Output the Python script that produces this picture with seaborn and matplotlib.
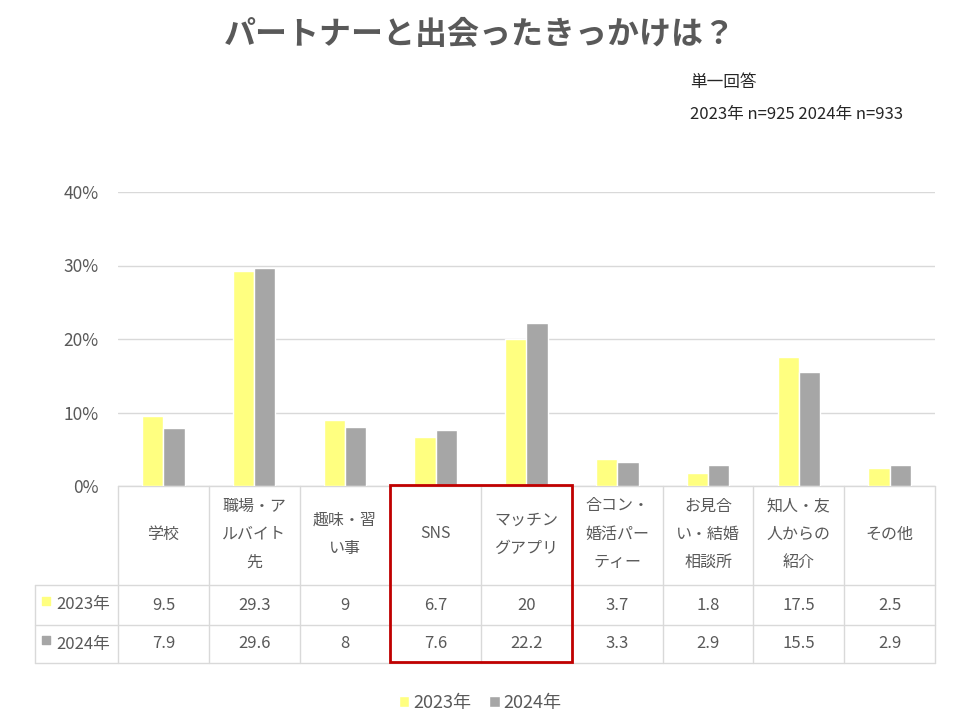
import pandas as pd
import matplotlib.pyplot as plt
import seaborn as sns
from matplotlib.patches import Rectangle
from matplotlib.transforms import blended_transform_factory

# データ
categories = ["学校", "職場・ア\nルバイト\n先", "趣味・習\nい事", "SNS", "マッチン\nグアプリ",
              "合コン・\n婚活パー\nティー", "お見合\nい・結婚\n相談所", "知人・友\n人からの\n紹介", "その他"]
values_2023 = [9.5, 29.3, 9, 6.7, 20, 3.7, 1.8, 17.5, 2.5]
values_2024 = [7.9, 29.6, 8, 7.6, 22.2, 3.3, 2.9, 15.5, 2.9]
years = ["2023年", "2024年"]
colors = ["#FFFF80", "#A6A6A6"]

TEXT = "#595959"
GRID = "#D9D9D9"
W, H = 960, 720


def fy(py):
    # ピクセル位置(上から) -> figure座標
    return 1 - py / H


def main():
    sns.set_theme(style="white")
    plt.rcParams["font.family"] = ["Noto Sans CJK JP", "DejaVu Sans"]

    df = pd.DataFrame({
        "cat": list(range(len(categories))) * 2,
        "value": values_2023 + values_2024,
        "year": [years[0]] * len(categories) + [years[1]] * len(categories),
    })

    fig = plt.figure(figsize=(W / 100, H / 100), dpi=100)
    fig.patch.set_facecolor("white")
    ax = fig.add_axes([118 / W, fy(486), (935 - 118) / W, (486 - 192) / H])

    sns.barplot(data=df, x="cat", y="value", hue="year", palette=colors,
                width=0.47, gap=0, saturation=1, ax=ax, zorder=3)

    ax.set_xlim(-0.5, len(categories) - 0.5)
    ax.set_ylim(0, 40)
    ax.set_yticks([0, 10, 20, 30, 40])
    ax.set_yticklabels([f"{t}%" for t in [0, 10, 20, 30, 40]], fontsize=12.5, color=TEXT)
    ax.tick_params(axis="y", length=0, pad=14)
    ax.set_xticks([])
    ax.set_xlabel("")
    ax.set_ylabel("")
    ax.grid(axis="y", color=GRID, linewidth=1, zorder=0)
    for s in ax.spines.values():
        s.set_visible(False)

    # 表
    tr = blended_transform_factory(ax.transData, fig.transFigure)
    n = len(categories)
    left_col = -0.5 - 83 / 90.78
    line_kw = dict(color=GRID, linewidth=1, transform=tr, clip_on=False, zorder=1)
    for i in range(n + 1):
        ax.plot([i - 0.5, i - 0.5], [fy(486), fy(663)], **line_kw)
    ax.plot([left_col, left_col], [fy(585), fy(663)], **line_kw)
    for py in [585, 625, 663]:
        ax.plot([left_col, n - 0.5], [fy(py), fy(py)], **line_kw)
    ax.plot([-0.5, n - 0.5], [fy(486), fy(486)], **line_kw)

    for i, c in enumerate(categories):
        ax.text(i, fy(534), c, ha="center", va="center", fontsize=11.5, color=TEXT,
                linespacing=1.85, transform=tr)
        ax.text(i, fy(605), f"{values_2023[i]:g}", ha="center", va="center",
                fontsize=12, color=TEXT, transform=tr)
        ax.text(i, fy(644), f"{values_2024[i]:g}", ha="center", va="center",
                fontsize=12, color=TEXT, transform=tr)

    for py, yr, col in [(605, years[0], colors[0]), (644, years[1], colors[1])]:
        ax.scatter([left_col + 0.12], [fy(py - 4)], marker="s", s=40, color=col,
                   transform=tr, clip_on=False)
        ax.text(left_col + 0.23, fy(py), yr, ha="left", va="center", fontsize=12,
                color=TEXT, transform=tr)

    # 赤枠
    ax.add_patch(Rectangle((2.5, fy(662)), 2, fy(485) - fy(662), fill=False,
                           edgecolor="#C00000", linewidth=2, transform=tr,
                           clip_on=False, zorder=5))

    # 凡例
    handles, labels = ax.get_legend_handles_labels()
    ax.legend(handles, labels, loc="center", bbox_to_anchor=(0.5, fy(703)),
              bbox_transform=fig.transFigure, ncol=2, frameon=False, fontsize=13,
              handlelength=0.6, handleheight=0.6, handletextpad=0.2, columnspacing=1.0,
              labelcolor=TEXT)

    # タイトル
    fig.text(0.5, fy(35), "パートナーと出会ったきっかけは？", ha="center", va="center",
             fontsize=23, fontweight="bold", color=TEXT)
    fig.text(690 / W, fy(82), "単一回答", ha="left", va="center", fontsize=12, color="#262626")
    fig.text(690 / W, fy(115), "2023年 n=925 2024年 n=933", ha="left", va="center",
             fontsize=12, color="#262626")

    fig.savefig("out.png", dpi=100, facecolor="white")


if __name__ == "__main__":
    main()
